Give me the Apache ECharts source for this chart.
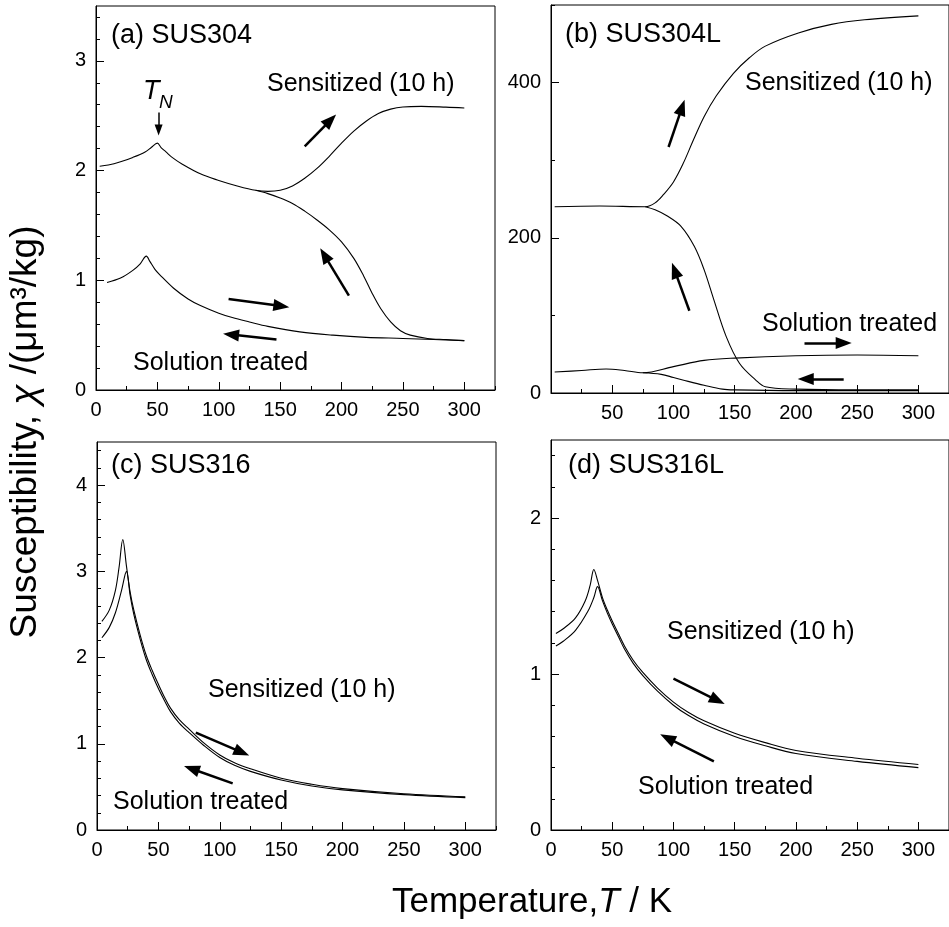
<!DOCTYPE html>
<html>
<head>
<meta charset="utf-8">
<script src="https://cdn.jsdelivr.net/npm/echarts@6.0.0/dist/echarts.min.js"></script>
<style>
html,body{margin:0;padding:0;background:#fff;}
#chart{width:949px;height:927px;}
</style>
</head>
<body>
<div id="chart"></div>
<script>
// ---------------- DATA (T / K, chi) ----------------
// (a) SUS304
const aSensHeat = [[3,2.04],[10,2.05],[20,2.08],[30,2.12],[40,2.17],[45,2.21],[50,2.25],[53,2.21],[57,2.17],[62,2.12],[70,2.06],[85,1.97],[100,1.91],[115,1.86],[130,1.82],[140,1.81],[150,1.82],[160,1.86],[170,1.93],[180,2.02],[190,2.13],[200,2.25],[210,2.36],[220,2.45],[230,2.52],[240,2.56],[250,2.58],[265,2.585],[285,2.578],[300,2.57]];
const aSensCool = [[130,1.82],[140,1.79],[150,1.75],[160,1.70],[170,1.63],[180,1.55],[190,1.46],[200,1.35],[210,1.20],[218,1.04],[225,0.88],[232,0.74],[240,0.62],[248,0.54],[256,0.50],[270,0.47],[285,0.46],[300,0.45]];
const aSol = [[9,0.98],[20,1.02],[30,1.09],[36,1.15],[41,1.22],[44,1.17],[48,1.10],[52,1.05],[63,0.93],[75,0.83],[85,0.77],[100,0.70],[111,0.66],[125,0.62],[140,0.58],[166,0.53],[193,0.50],[220,0.48],[250,0.47],[275,0.46],[300,0.45]];
// (b) SUS304L
const bSensHeat = [[3,240],[40,241],[77,240],[85,245],[92,256],[100,272],[108,296],[116,325],[125,356],[135,383],[149,412],[162,432],[175,447],[202,464],[229,475],[256,481],[300,486]];
const bSensCool = [[77,240],[85,236],[95,228],[106,215],[117,189],[125,159],[133,120],[143,73],[154,38],[167,17],[175,8],[200,5],[250,4],[300,4]];
const bSolHeat = [[3,27],[25,29],[45,31],[60,29],[75,26],[100,34],[125,42],[150,45],[200,48],[250,49],[300,48]];
const bSolCool = [[75,26],[90,24],[100,20],[112,15],[125,10],[140,5],[150,4],[200,3],[300,3]];
// (c) SUS316
const cSens = [[4,2.42],[10,2.55],[15,2.78],[18,3.05],[21,3.37],[24,3.06],[27,2.76],[30,2.55],[35,2.27],[40,2.03],[45,1.85],[50,1.69],[55,1.54],[60,1.41],[67,1.28],[75,1.17],[87,1.01],[100,0.87],[112,0.78],[125,0.71],[150,0.60],[175,0.53],[200,0.48],[250,0.42],[300,0.385]];
const cSol = [[4,2.23],[10,2.35],[15,2.52],[20,2.78],[24,3.00],[27,2.72],[30,2.50],[35,2.22],[40,1.98],[45,1.80],[50,1.64],[55,1.50],[60,1.37],[67,1.24],[75,1.13],[87,0.98],[100,0.84],[112,0.75],[125,0.68],[150,0.58],[175,0.51],[200,0.465],[250,0.41],[300,0.375]];
// (d) SUS316L
const dSens = [[4,1.26],[10,1.29],[20,1.36],[28,1.47],[32,1.57],[35,1.67],[38,1.60],[42,1.49],[46,1.41],[50,1.34],[55,1.26],[60,1.18],[67,1.09],[75,1.01],[87,0.91],[100,0.82],[112,0.755],[125,0.70],[150,0.62],[175,0.56],[200,0.51],[250,0.46],[300,0.42]];
const dSol = [[4,1.18],[10,1.21],[20,1.28],[30,1.40],[35,1.49],[38,1.56],[42,1.47],[46,1.39],[50,1.32],[55,1.24],[60,1.16],[67,1.07],[75,0.99],[87,0.89],[100,0.80],[112,0.735],[125,0.68],[150,0.60],[175,0.54],[200,0.49],[250,0.44],[300,0.40]];

// arrows: [[tailT, tailChi],[headT, headChi]]
const aArrows = [[[170,2.22],[191,2.46]],[[206,0.86],[186,1.23]],[[108,0.83],[151,0.765]],[[147,0.46],[110,0.505]]];
const aTnArrow = [[[51,2.53],[51,2.37]]];
const bArrows = [[[96,317],[107,368]],[[113,106],[101,158]],[[207,64.5],[239,64.5]],[[239,18],[208,18]]];
const cArrows = [[[80.5,1.13],[118,0.90]],[[110.5,0.54],[77,0.71]]];
const dArrows = [[[100,0.97],[136,0.83]],[[133,0.44],[95,0.59]]];

// tick labels
const xLabelsFull = [0,50,100,150,200,250,300];
const xLabelsB = [50,100,150,200,250,300];
const xMajor = [0,50,100,150,200,250,300];
const xMinor = [25,75,125,175,225,275,325];
const aYLabels = [0,1,2,3];
const bYLabels = [0,200,400];
const cYLabels = [0,1,2,3,4];
const dYLabels = [0,1,2];
const bYMinor = [100,300,500];
const X_MAX = 325;

function steps(step, max, skipEvery){
  const out=[];
  for(let k=1; k*step<=max+1e-9; k++){ if(k%skipEvery!==0) out.push(+(k*step).toFixed(4)); }
  return out;
}
const aYMinor = steps(0.2,3.5,5);
const cYMinor = steps(0.2,4.5,5);
const dYMinor = steps(0.2,2.5,5);

const FONT = "'Liberation Sans', Arial, Helvetica, sans-serif";

const grids = [
  {left:96, top:6, width:399, height:384},
  {left:551, top:5, width:406, height:388},
  {left:97, top:442, width:399, height:388},
  {left:551, top:440, width:406, height:390}
];

const panels = [
  {yMax:3.5, yLabels:aYLabels, yMinor:aYMinor, xLabels:xLabelsFull},
  {yMax:500, yLabels:bYLabels, yMinor:bYMinor, xLabels:xLabelsB},
  {yMax:4.5, yLabels:cYLabels, yMinor:cYMinor, xLabels:xLabelsFull},
  {yMax:2.5, yLabels:dYLabels, yMinor:dYMinor, xLabels:xLabelsFull}
];

const xAxis=[], yAxis=[];
panels.forEach((p,i)=>{
  xAxis.push({type:'value', gridIndex:i, min:0, max:X_MAX, position:'bottom',
    axisLine:{show:true, onZero:false, lineStyle:{color:'#000', width:1}},
    axisTick:{show:true, inside:true, length:8, customValues:xMajor, lineStyle:{color:'#000', width:1}},
    axisLabel:{show:true, customValues:p.xLabels, color:'#000', fontSize:20, fontFamily:FONT, margin:10},
    splitLine:{show:false}});
  xAxis.push({type:'value', gridIndex:i, min:0, max:X_MAX, position:'bottom',
    axisLine:{show:false},
    axisTick:{show:true, inside:true, length:4, customValues:xMinor, lineStyle:{color:'#000', width:1}},
    axisLabel:{show:false}, splitLine:{show:false}});
  yAxis.push({type:'value', gridIndex:i, min:0, max:p.yMax, position:'left',
    axisLine:{show:true, onZero:false, lineStyle:{color:'#000', width:1}},
    axisTick:{show:true, inside:true, length:8, customValues:p.yLabels, lineStyle:{color:'#000', width:1}},
    axisLabel:{show:true, customValues:p.yLabels, color:'#000', fontSize:20, fontFamily:FONT, margin:10},
    splitLine:{show:false}});
  yAxis.push({type:'value', gridIndex:i, min:0, max:p.yMax, position:'left',
    axisLine:{show:false},
    axisTick:{show:true, inside:true, length:4, customValues:p.yMinor, lineStyle:{color:'#000', width:1}},
    axisLabel:{show:false}, splitLine:{show:false}});
});

function arrowMark(list, size, width){
  return {silent:true, symbol:['none','triangle'], symbolSize:size, animation:false,
    lineStyle:{color:'#000', width:width, type:'solid'}, label:{show:false},
    emphasis:{disabled:true},
    data:list.map(a=>[{coord:a[0]},{coord:a[1]}])};
}
function line(gi, data, mark){
  const s = {type:'line', xAxisIndex:gi*2, yAxisIndex:gi*2, data:data, showSymbol:false, symbol:'none',
    smooth:0.35, lineStyle:{color:'#000', width:1.1}, itemStyle:{color:'#000'},
    emphasis:{disabled:true}, silent:true};
  if(mark) s.markLine = mark;
  return s;
}
const series = [
  line(0, aSensHeat, arrowMark(aArrows,[12,16],2.5)),
  line(0, aSensCool, arrowMark(aTnArrow,[8,11],1.5)),
  line(0, aSol),
  line(1, bSensHeat, arrowMark(bArrows,[12,16],2.5)),
  line(1, bSensCool),
  line(1, bSolHeat),
  line(1, bSolCool),
  line(2, cSens, arrowMark(cArrows,[12,16],2.5)),
  line(2, cSol),
  line(3, dSens, arrowMark(dArrows,[12,16],2.5)),
  line(3, dSol)
];

function txt(t, left, top, size, italic){
  return {type:'text', left:left, top:top, silent:true,
    style:{text:t, fill:'#000', fontSize:size, fontFamily:FONT, fontStyle:italic?'italic':'normal'}};
}
const graphic = [
  txt('(a) SUS304',111,22,27), txt('Sensitized (10 h)',267,72,25), txt('Solution treated',133,351,25),
  txt('T',143,78,27,true), txt('N',159,93,19,true),
  txt('(b) SUS304L',565,21,27), txt('Sensitized (10 h)',745,71,25), txt('Solution treated',762,312,25),
  txt('(c) SUS316',111,452,27), txt('Sensitized (10 h)',208,678,25), txt('Solution treated',113,790,25),
  txt('(d) SUS316L',568,452,27), txt('Sensitized (10 h)',667,620,25), txt('Solution treated',638,775,25),
  {type:'text', x:26, y:432, rotation:Math.PI/2, silent:true,
    style:{text:'Susceptibility, {i|χ} /(μm³/kg)', fill:'#000', fontSize:37, fontFamily:FONT,
      align:'center', verticalAlign:'middle',
      rich:{i:{fontStyle:'italic', fontSize:37, fontFamily:FONT, fill:'#000'}}}},
  {type:'text', x:532, y:902, silent:true,
    style:{text:'Temperature,{i|T} / K', fill:'#000', fontSize:35, fontFamily:FONT,
      align:'center', verticalAlign:'middle',
      rich:{i:{fontStyle:'italic', fontSize:35, fontFamily:FONT, fill:'#000'}}}}
];

const chart = echarts.init(document.getElementById('chart'), null, {renderer:'canvas'});
chart.setOption({
  animation:false,
  backgroundColor:'#fff',
  grid: grids.map(g=>Object.assign({show:true, borderColor:'#000', borderWidth:1, backgroundColor:'rgba(0,0,0,0)'}, g)),
  xAxis:xAxis, yAxis:yAxis, series:series, graphic:graphic
});
</script>
</body>
</html>
